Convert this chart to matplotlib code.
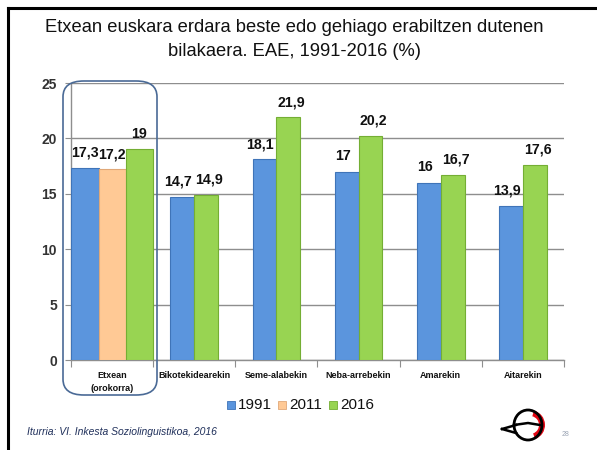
import numpy as np
import matplotlib
matplotlib.use("Agg")
import matplotlib.pyplot as plt
from matplotlib.patches import FancyBboxPatch, Rectangle, Ellipse, Wedge
from matplotlib.lines import Line2D

plt.rcParams['font.family'] = ['Liberation Sans', 'DejaVu Sans']

categories = ["Etxean\n(orokorra)", "Bikotekidearekin", "Seme-alabekin",
              "Neba-arrebekin", "Amarekin", "Aitarekin"]
series_names = ["1991", "2011", "2016"]
v1991 = [17.3, 14.7, 18.1, 17.0, 16.0, 13.9]
v2011 = [17.2, np.nan, np.nan, np.nan, np.nan, np.nan]
v2016 = [19.0, 14.9, 21.9, 20.2, 16.7, 17.6]
yticks = [0, 5, 10, 15, 20, 25]

colors = ["#5B95DD", "#FFC995", "#98D452"]
edges = ["#3F74B8", "#E0A878", "#74AE34"]

W, H = 597, 450
fig = plt.figure(figsize=(W / 100, H / 100), dpi=100)
fig.patch.set_facecolor("white")

# slide frame (top and left)
fig.add_artist(Line2D([8 / W, 1], [1 - 8 / H, 1 - 8 / H], color="black", lw=2.2, transform=fig.transFigure))
fig.add_artist(Line2D([8 / W, 8 / W], [0, 1 - 8 / H], color="black", lw=2.2, transform=fig.transFigure))

fig.text(0.493, 1 - 28 / H, "Etxean euskara erdara beste edo gehiago erabiltzen dutenen",
         ha="center", va="center", fontsize=13.2, color="#111111")
fig.text(0.493, 1 - 52 / H, "bilakaera. EAE, 1991-2016 (%)",
         ha="center", va="center", fontsize=13.2, color="#111111")

ax_l, ax_r, ax_t, ax_b = 71, 564, 83, 360
ax = fig.add_axes([ax_l / W, 1 - ax_b / H, (ax_r - ax_l) / W, (ax_b - ax_t) / H])

data = [v1991, v2011, v2016]
for i in range(len(categories)):
    present = [s for s in range(3) if not np.isnan(data[s][i])]
    n = len(present)
    w = 0.33 if n == 3 else 0.29
    nudges = [0, 0, 0] if n == 3 else [-3, 2]
    for k, s in enumerate(present):
        xc = i + (k - (n - 1) / 2) * w
        val = data[s][i]
        ax.bar(xc, val, width=w, color=colors[s], edgecolor=edges[s], linewidth=0.8, zorder=3)
        ax.annotate(f"{val:g}".replace(".", ","), xy=(xc, val), xytext=(nudges[k], 6),
                    textcoords="offset points", ha="center", va="bottom",
                    fontsize=10.2, fontweight="bold", color="#111111", zorder=5)

ax.set_xlim(-0.5, len(categories) - 0.5)
ax.set_ylim(0, 25)
ax.set_yticks(yticks)
ax.set_yticklabels([str(t) for t in yticks], fontsize=10, fontweight="bold", color="#333333")
ax.yaxis.grid(True, color="#8E8E8E", lw=1.0, zorder=0)
ax.set_axisbelow(True)
ax.set_xticks(np.arange(-0.5, len(categories)))
ax.set_xticklabels([])
ax.tick_params(axis="x", length=5, color="#8E8E8E", direction="out")
ax.tick_params(axis="y", length=4, color="#8E8E8E", direction="out", pad=6)
for sp in ["top", "right"]:
    ax.spines[sp].set_visible(False)
for sp in ["left", "bottom"]:
    ax.spines[sp].set_color("#8E8E8E")
    ax.spines[sp].set_linewidth(1.0)

for i, c in enumerate(categories):
    ax.text(i, -1.0, c, ha="center", va="top", fontsize=6.5, fontweight="bold",
            color="#111111", linespacing=1.6, clip_on=False)

# rounded highlight box around the first category
box = FancyBboxPatch((63 / W, 1 - 395 / H), (157 - 63) / W, (395 - 81) / H,
                     boxstyle="round,pad=0,rounding_size=0.035", transform=fig.transFigure,
                     fill=False, edgecolor="#4A6A96", lw=1.2)
fig.add_artist(box)

# legend
leg_y = 1 - 405 / H
for s, (nm, xs) in enumerate(zip(series_names, [227, 278, 329])):
    fig.add_artist(Rectangle((xs / W, leg_y - 4 / H), 8 / W, 8 / H, transform=fig.transFigure,
                             facecolor=colors[s], edgecolor=edges[s], lw=0.6))
    fig.text((xs + 11) / W, leg_y, nm, ha="left", va="center", fontsize=11, color="#111111")

fig.text(27 / W, 1 - 432 / H, "Iturria: VI. Inkesta Soziolinguistikoa, 2016", ha="left",
         va="center", fontsize=7.5, style="italic", color="#1F2F5A")
fig.text(566 / W, 1 - 434 / H, "28", ha="center", va="center", fontsize=5, color="#9AA4B4")

# simple logo
lax = fig.add_axes([500 / W, 1 - 447 / H, 50 / W, 42 / H])
lax.set_xlim(0, 50)
lax.set_ylim(0, 42)
lax.set_aspect("equal")
lax.axis("off")
lax.add_patch(Wedge((30, 22), 15, -70, 75, width=6, facecolor="#E30613", edgecolor="none"))
lax.add_patch(Ellipse((28, 22), 28, 30, fill=False, edgecolor="black", lw=2.0))
lax.plot([14, 28, 40], [22, 24, 22], color="black", lw=1.8)
lax.plot([2, 16], [18, 22], color="black", lw=1.8)
lax.plot([2, 16], [18, 14], color="black", lw=1.8)

fig.savefig("out.png", dpi=100)
